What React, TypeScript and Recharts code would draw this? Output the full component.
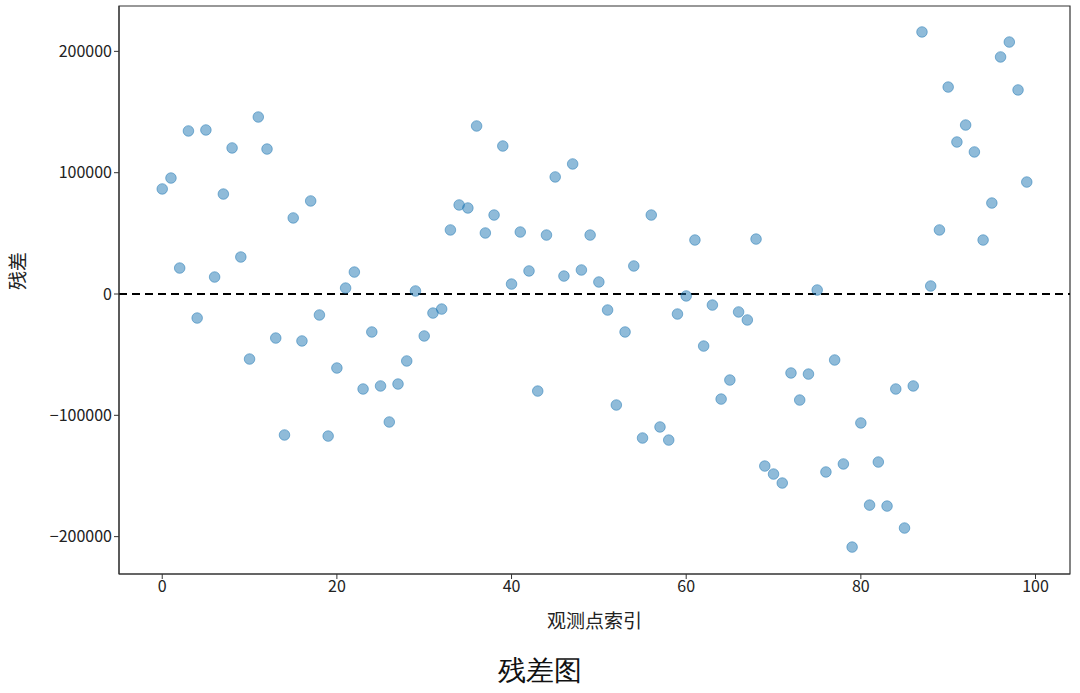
import {
  ReferenceArea,
  ReferenceLine,
  Scatter,
  ScatterChart,
  XAxis,
  YAxis,
} from 'recharts';

const residuos = [
  86600, 95600, 21400, 134400, -19800, 135200, 14000, 82400, 120400, 30500,
  -53600, 145900, 119500, -36300, -116200, 62700, -38700, 76700, -17300, -117100,
  -61000, 4900, 18100, -78300, -31300, -75800, -105500, -74200, -55200, 2500,
  -34600, -15700, -12400, 52800, 73400, 70900, 138500, 50300, 65100, 122000,
  8200, 51100, 19000, -80000, 48600, 96500, 14800, 107200, 19800, 48600,
  9900, -13200, -91500, -31300, 23100, -118700, 65100, -109600, -120400, -16500,
  -1600, 44500, -42900, -9100, -86600, -70900, -14800, -21400, 45300, -141800,
  -148400, -155800, -65100, -87400, -66000, 3300, -146700, -54400, -140100, -208600,
  -106300, -174000, -138500, -174800, -78300, -192900, -75800, 216000, 6600, 52800,
  170600, 125300, 139300, 117100, 44500, 75000, 195400, 207700, 168200, 92300,
];

const ticksX = [0, 20, 40, 60, 80, 100];
const ticksY = [-200000, -100000, 0, 100000, 200000];

const dominioX = [-4.95, 103.95];
const dominioY = [-230800, 237400];

const dados = residuos.map((r, i) => ({ indice: i, residuo: r }));

const fonte = '"Noto Sans CJK SC", "Noto Sans", sans-serif';

const formataY = (v: number) => (v < 0 ? '\u2212' + Math.abs(v) : String(v));

const Ponto = (props: any) => (
  <circle
    cx={props.cx}
    cy={props.cy}
    r={5.3}
    fill="#1f77b4"
    fillOpacity={0.5}
    stroke="#1f77b4"
    strokeOpacity={0.5}
    strokeWidth={1}
  />
);

const App = () => {
  return (
    <div
      style={{
        position: 'absolute',
        left: 0,
        top: 0,
        width: 1080,
        height: 693,
        background: '#fff',
      }}
    >
      <ScatterChart
        width={1080}
        height={693}
        margin={{ top: 6, right: 10, bottom: 79, left: 20 }}
      >
        <XAxis
          type="number"
          dataKey="indice"
          domain={dominioX}
          ticks={ticksX}
          allowDataOverflow
          height={40}
          stroke="#333"
          tickSize={5}
          tick={{ fill: '#222', fontSize: 16, fontFamily: fonte }}
          label={{
            value: '观测点索引',
            position: 'insideBottom',
            offset: -14,
            fill: '#222',
            fontSize: 19,
            fontFamily: fonte,
          }}
        />
        <YAxis
          type="number"
          dataKey="residuo"
          domain={dominioY}
          ticks={ticksY}
          allowDataOverflow
          width={99}
          stroke="#333"
          tickSize={5}
          tickFormatter={formataY}
          tick={{ fill: '#222', fontSize: 16, fontFamily: fonte }}
          label={{
            value: '残差',
            angle: -90,
            position: 'insideLeft',
            offset: -2,
            fill: '#222',
            fontSize: 19,
            fontFamily: fonte,
          }}
        />
        <ReferenceArea
          x1={dominioX[0]}
          x2={dominioX[1]}
          y1={dominioY[0]}
          y2={dominioY[1]}
          ifOverflow="visible"
          fill="none"
          stroke="#333"
          strokeWidth={1.2}
        />
        <ReferenceLine
          y={0}
          stroke="#000"
          strokeWidth={2}
          strokeDasharray="8 5"
        />
        <Scatter data={dados} shape={Ponto} isAnimationActive={false} />
      </ScatterChart>
      <div
        style={{
          position: 'absolute',
          left: 0,
          width: 1080,
          top: 652,
          textAlign: 'center',
          fontSize: 28,
          fontFamily: 'serif',
          color: '#111',
        }}
      >
        残差图
      </div>
    </div>
  );
};

export default App;
